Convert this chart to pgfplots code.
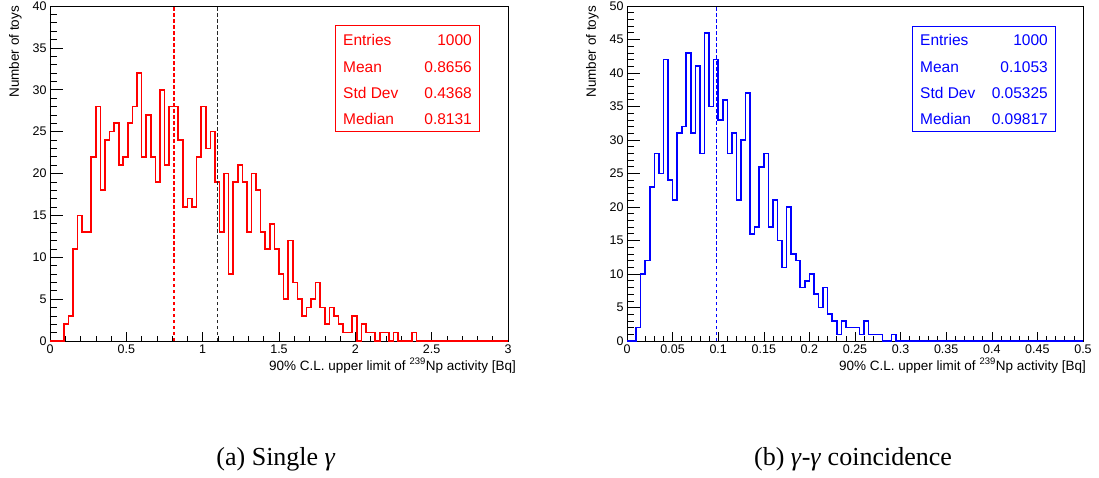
\documentclass[border=0pt]{standalone}
\usepackage{fontspec}
\setmainfont{Liberation Sans}
\newfontfamily\capfont{Liberation Serif}
\usepackage{pgfplots}
\pgfplotsset{compat=1.18}
\usepackage{pgfplotstable}

% Single gamma: left bin edges (width 0.03) and counts
\pgfplotstableread{
x y
0.00 0
0.03 0
0.06 0
0.09 2
0.12 3
0.15 11
0.18 15
0.21 13
0.24 13
0.27 22
0.30 28
0.33 18
0.36 24
0.39 25
0.42 26
0.45 21
0.48 22
0.51 26
0.54 28
0.57 32
0.60 22
0.63 27
0.66 22
0.69 19
0.72 30
0.75 21
0.78 28
0.81 28
0.84 24
0.87 16
0.90 17
0.93 16
0.96 22
0.99 28
1.02 23
1.05 25
1.08 19
1.11 13
1.14 20
1.17 8
1.20 19
1.23 21
1.26 19
1.29 13
1.32 20
1.35 18
1.38 13
1.41 11
1.44 14
1.47 11
1.50 8
1.53 5
1.56 12
1.59 7
1.62 5
1.65 3
1.68 4
1.71 5
1.74 7
1.77 4
1.80 2
1.83 4
1.86 3
1.89 2
1.92 1
1.95 1
1.98 3
2.01 0
2.04 2
2.07 1
2.10 1
2.13 0
2.16 1
2.19 1
2.22 0
2.25 1
2.28 0
2.31 0
2.34 0
2.37 1
2.40 0
3.00 0
}\singledata

% gamma-gamma coincidence: left bin edges (width 0.005) and counts
\pgfplotstableread{
x y
0.000 0
0.005 0
0.010 2
0.015 10
0.020 12
0.025 23
0.030 28
0.035 25
0.040 42
0.045 24
0.050 21
0.055 31
0.060 32
0.065 43
0.070 31
0.075 41
0.080 28
0.085 46
0.090 35
0.095 42
0.100 33
0.105 36
0.110 28
0.115 31
0.120 21
0.125 30
0.130 37
0.135 16
0.140 17
0.145 26
0.150 28
0.155 17
0.160 21
0.165 15
0.170 11
0.175 20
0.180 13
0.185 12
0.190 8
0.195 9
0.200 10
0.205 7
0.210 5
0.215 8
0.220 4
0.225 3
0.230 1
0.235 3
0.240 2
0.245 2
0.250 2
0.255 1
0.260 3
0.265 1
0.270 1
0.275 1
0.280 0
0.285 0
0.290 1
0.295 0
0.500 0
}\coincdata

\pgfplotsset{
  rootaxis/.style={
    scale only axis, anchor=south west, height=335pt,
    clip=false,
    axis line style={black, line width=0.8pt},
    tick align=inside, xtick pos=left, ytick pos=left,
    tick style={black, line width=0.6pt},
    xtick style={/pgfplots/major tick length=9pt,/pgfplots/minor tick length=5pt},
    ytick style={/pgfplots/major tick length=13pt,/pgfplots/minor tick length=6.5pt},
    minor x tick num=4, minor y tick num=4,
    scaled ticks=false,
    /pgf/number format/assume math mode=true,
    tick label style={font=\fontsize{12.5}{13}\selectfont},
    xlabel style={anchor=base east, inner sep=0pt, font=\fontsize{13.5}{14}\selectfont},
    ylabel style={anchor=north east, inner sep=0pt, font=\fontsize{13.5}{14}\selectfont},
  },
  hist/.style={const plot mark left, line width=1.6pt, no marks},
  median/.style={line width=1.4pt, dash pattern=on 3.5pt off 2.5pt},
}

\begin{document}
\begin{tikzpicture}[x=1pt,y=1pt]
\useasboundingbox (0,0) rectangle (1099,477);

% ---------- (a) Single gamma ----------
\begin{axis}[rootaxis,
  at={(50pt,136pt)}, width=458pt,
  xmin=0, xmax=3, ymin=0, ymax=40,
  xtick={0,0.5,1,1.5,2,2.5,3},
  xticklabels={0,0.5,1,1.5,2,2.5,3},
  ytick={0,5,10,15,20,25,30,35,40},
  xlabel={90\% C.L. upper limit of \textsuperscript{239}Np activity [Bq]},
  ylabel={Number of toys},
  xlabel style={at={(axis description cs:1,0)}, xshift=8pt, yshift=-29pt},
  ylabel style={at={(axis description cs:-0.0895,1)}},
]
\addplot[hist, red] table[x=x, y=y] {\singledata};
\addplot[median, red] coordinates {(0.8131,0) (0.8131,40)};
\addplot[median, black!85] coordinates {(1.098,0) (1.098,40)};
\end{axis}

% ---------- (b) gamma-gamma coincidence ----------
\begin{axis}[rootaxis,
  at={(627pt,136pt)}, width=456pt,
  xmin=0, xmax=0.5, ymin=0, ymax=50,
  xtick={0,0.05,0.1,0.15,0.2,0.25,0.3,0.35,0.4,0.45,0.5},
  xticklabels={0,0.05,0.1,0.15,0.2,0.25,0.3,0.35,0.4,0.45,0.5},
  ytick={0,5,10,15,20,25,30,35,40,45,50},
  xlabel={90\% C.L. upper limit of \textsuperscript{239}Np activity [Bq]},
  ylabel={Number of toys},
  xlabel style={at={(axis description cs:1,0)}, xshift=3pt, yshift=-29pt},
  ylabel style={at={(axis description cs:-0.0899,1)}},
]
\addplot[hist, blue] table[x=x, y=y] {\coincdata};
\addplot[median, blue] coordinates {(0.09817,0) (0.09817,50)};
\end{axis}

% ---------- statistics boxes ----------
\begin{scope}[font=\fontsize{15.5}{16}\selectfont]
\draw[red, line width=0.9pt] (335,451.3) rectangle (479,345.3);
\node[red, anchor=base west, inner sep=0pt] at (343,431.5) {Entries};
\node[red, anchor=base east, inner sep=0pt] at (472,431.5) {1000};
\node[red, anchor=base west, inner sep=0pt] at (343,404.8) {Mean};
\node[red, anchor=base east, inner sep=0pt] at (472,404.8) {0.8656};
\node[red, anchor=base west, inner sep=0pt] at (343,378.8) {Std Dev};
\node[red, anchor=base east, inner sep=0pt] at (472,378.8) {0.4368};
\node[red, anchor=base west, inner sep=0pt] at (343,352.8) {Median};
\node[red, anchor=base east, inner sep=0pt] at (472,352.8) {0.8131};

\draw[blue, line width=0.9pt] (912,451) rectangle (1055,345.3);
\node[blue, anchor=base west, inner sep=0pt] at (920,431.5) {Entries};
\node[blue, anchor=base east, inner sep=0pt] at (1048,431.5) {1000};
\node[blue, anchor=base west, inner sep=0pt] at (920,404.8) {Mean};
\node[blue, anchor=base east, inner sep=0pt] at (1048,404.8) {0.1053};
\node[blue, anchor=base west, inner sep=0pt] at (920,378.8) {Std Dev};
\node[blue, anchor=base east, inner sep=0pt] at (1048,378.8) {0.05325};
\node[blue, anchor=base west, inner sep=0pt] at (920,352.8) {Median};
\node[blue, anchor=base east, inner sep=0pt] at (1048,352.8) {0.09817};
\end{scope}

% ---------- sub-captions ----------
\node[font=\capfont\fontsize{26}{28}\selectfont, anchor=base] at (276,12) {(a) Single \textit{γ}};
\node[font=\capfont\fontsize{26}{28}\selectfont, anchor=base] at (853,12) {(b) \textit{γ}-\textit{γ} coincidence};
\end{tikzpicture}
\end{document}
